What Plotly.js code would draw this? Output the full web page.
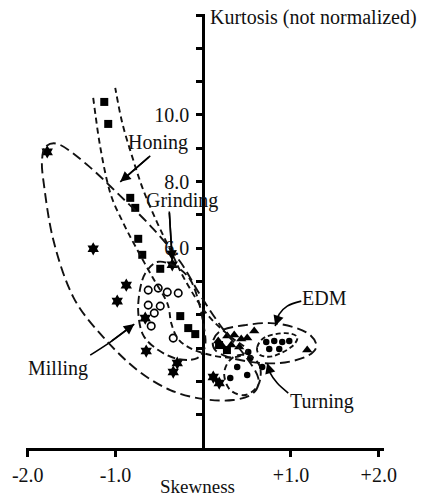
<!DOCTYPE html>
<html>
<head>
<meta charset="utf-8">
<script src="https://cdn.plot.ly/plotly-3.0.1.min.js"></script>
<style>
html,body{margin:0;padding:0;background:#fff;}
#chart{width:421px;height:496px;}
</style>
</head>
<body>
<div id="chart"></div>
<script>
// ---- data points (skewness, kurtosis) ----
const honingX = [-1.128, -1.083, -0.832, -0.775, -0.741, -0.695, -0.49, -0.262, -0.171, -0.091, 0.18, 0.27];
const honingY = [10.39, 9.73, 7.51, 7.21, 6.28, 5.80, 5.38, 3.96, 3.60, 3.42, 3.09, 2.94];

const grindingX = [-0.627, -0.513, -0.41, -0.285, -0.627, -0.49, -0.558, -0.593, -0.342];
const grindingY = [4.74, 4.80, 4.68, 4.65, 4.29, 4.26, 4.05, 3.66, 3.30];

const millingX = [-1.778, -1.254, -0.877, -0.98, -0.661, -0.65, -0.296, -0.342, 0.114, 0.182, -0.353];
const millingY = [8.89, 5.98, 4.89, 4.41, 3.90, 2.91, 2.55, 2.28, 2.13, 1.95, 5.50];

const edmX = [0.171, 0.274, 0.353, 0.433, 0.501, 0.581, 0.217, 0.319, 0.41, 1.185];
const edmY = [3.21, 3.36, 3.39, 3.27, 3.30, 3.51, 3.06, 3.09, 3.03, 2.94];

const turningX = [0.718, 0.809, 0.90, 0.98, 0.752, 0.866, 0.513, 0.536, 0.672, 0.387, 0.501, 0.308];
const turningY = [3.18, 3.21, 3.18, 3.21, 2.97, 2.97, 2.88, 2.70, 2.43, 2.43, 2.19, 2.10];

// ---- region outlines ----
const millingOutX = [-1.789, -1.63, -1.322, -0.946, -0.57, -0.262, -0.034, 0.217, 0.479, 0.627, 0.57, 0.342, 0.0, -0.376, -0.752, -1.14, -1.481, -1.709, -1.823, -1.835];
const millingOutY = [9.07, 9.10, 8.50, 7.57, 6.58, 5.59, 4.59, 3.60, 2.76, 2.10, 1.65, 1.44, 1.47, 1.74, 2.34, 3.33, 4.53, 6.25, 8.05, 8.71];

const honingOutX = [-1.254, -1.174, -1.06, -0.912, -0.764, -0.581, -0.41, -0.365, -0.285, -0.125, 0.137, 0.365, 0.501, 0.33, 0.125, -0.034, -0.228, -0.376, -0.524, -0.684, -0.809, -0.923, -1.003];
const honingOutY = [10.51, 9.04, 7.66, 6.76, 6.01, 5.14, 4.35, 3.75, 3.27, 2.97, 2.76, 2.73, 2.94, 3.30, 3.78, 4.29, 5.14, 5.95, 6.76, 7.75, 8.74, 9.76, 10.81];

const grindingOutX = [-0.513, -0.308, -0.148, -0.057, 0.0, 0.023, -0.068, -0.285, -0.513, -0.684, -0.741, -0.718, -0.65];
const grindingOutY = [5.59, 5.44, 5.05, 4.44, 3.75, 3.09, 2.70, 2.67, 2.94, 3.39, 4.08, 4.80, 5.29];

const edmOutX = [0.114, 0.217, 0.479, 0.764, 1.026, 1.219, 1.288, 1.162, 0.877, 0.558, 0.285, 0.137];
const edmOutY = [3.24, 3.54, 3.69, 3.75, 3.63, 3.39, 3.03, 2.73, 2.55, 2.58, 2.73, 2.94];

const turningOutAX = [0.615, 0.707, 0.934, 1.071, 1.003, 0.798, 0.65];
const turningOutAY = [3.03, 3.33, 3.45, 3.33, 3.03, 2.76, 2.79];

const turningOutBX = [0.399, 0.558, 0.65, 0.627, 0.479, 0.308, 0.239, 0.285];
const turningOutBY = [2.79, 2.73, 2.40, 1.89, 1.59, 1.74, 2.19, 2.58];

// ---- pointer arrows (tail ... tip) ----
const honingArrowX = [-0.604, -0.946];
const honingArrowY = [8.77, 7.99];
const grindingArrowX = [-0.387, -0.353];
const grindingArrowY = [7.10, 5.62];
const millingArrowX = [-1.288, -1.06, -0.786];
const millingArrowY = [2.79, 3.18, 3.72];
const edmArrowX = [1.117, 0.957, 0.866, 0.821];
const edmArrowY = [4.41, 4.26, 4.02, 3.66];
const turningArrowX = [0.969, 0.843, 0.764, 0.729];
const turningArrowY = [1.65, 1.95, 2.25, 2.55];

// ---- labels ----
const labelText = ['Honing', 'Grinding', 'EDM', 'Turning', 'Milling'];
const labelX = [-0.519, -0.245, 1.379, 1.356, -1.652];
const labelY = [9.16, 7.43, 4.50, 1.41, 2.40];

const xTickVals = [-2, -1, 1, 2];
const xTickText = ['-2.0', '-1.0', '+1.0', '+2.0'];
const yTickVals = [1,2,3,4,5,6,7,8,9,10,11,12,13];
const yTickText = ['','','','','','6.0','','8.0','','10.0','','',''];

const FONT = '"Liberation Serif", "Times New Roman", serif';
const FS = 20;

function f(v){ return (+v).toFixed(4); }
function closedPath(xs, ys){
  const n = xs.length;
  let d = 'M' + f(xs[0]) + ',' + f(ys[0]);
  for (let i = 0; i < n; i++){
    const i0 = (i - 1 + n) % n, i1 = i, i2 = (i + 1) % n, i3 = (i + 2) % n;
    const c1x = xs[i1] + (xs[i2] - xs[i0]) / 6, c1y = ys[i1] + (ys[i2] - ys[i0]) / 6;
    const c2x = xs[i2] - (xs[i3] - xs[i1]) / 6, c2y = ys[i2] - (ys[i3] - ys[i1]) / 6;
    d += ' C' + f(c1x) + ',' + f(c1y) + ' ' + f(c2x) + ',' + f(c2y) + ' ' + f(xs[i2]) + ',' + f(ys[i2]);
  }
  return d + ' Z';
}
function openPath(xs, ys){
  const n = xs.length;
  let d = 'M' + f(xs[0]) + ',' + f(ys[0]);
  for (let i = 0; i < n - 1; i++){
    const i0 = Math.max(i - 1, 0), i1 = i, i2 = i + 1, i3 = Math.min(i + 2, n - 1);
    const c1x = xs[i1] + (xs[i2] - xs[i0]) / 6, c1y = ys[i1] + (ys[i2] - ys[i0]) / 6;
    const c2x = xs[i2] - (xs[i3] - xs[i1]) / 6, c2y = ys[i2] - (ys[i3] - ys[i1]) / 6;
    d += ' C' + f(c1x) + ',' + f(c1y) + ' ' + f(c2x) + ',' + f(c2y) + ' ' + f(xs[i2]) + ',' + f(ys[i2]);
  }
  return d;
}
function outline(path, dash){
  return {type:'path', xref:'x', yref:'y', path:path, layer:'above',
          line:{color:'#111', width:1.9, dash:dash}};
}

const shapes = [
  outline(closedPath(millingOutX, millingOutY), '10px,5px'),
  outline(openPath(honingOutX, honingOutY), '6px,4px'),
  outline(closedPath(grindingOutX, grindingOutY), '8px,4px'),
  outline(closedPath(edmOutX, edmOutY), '10px,5px'),
  outline(closedPath(turningOutAX, turningOutAY), '5px,3px'),
  outline(closedPath(turningOutBX, turningOutBY), '6px,4px')
];

function pts(x, y, symbol, size){
  return {type:'scatter', mode:'markers', x:x, y:y, hoverinfo:'skip',
    marker:{symbol:symbol, size:size, color:'#000', line:{color:'#000', width:0}}};
}
function shaft(x, y){
  return {type:'scatter', mode:'lines', x:x, y:y, hoverinfo:'skip',
    line:{color:'#000', width:1.6, shape:'spline'}};
}

const traces = [
  pts(honingX, honingY, 'square', 8),
  {type:'scatter', mode:'markers', x:grindingX, y:grindingY, hoverinfo:'skip',
   marker:{symbol:'circle-open', size:7.5, color:'#000', line:{color:'#000', width:1.6}}},
  pts(millingX, millingY, 'hexagram', 10),
  pts(edmX, edmY, 'triangle-up', 9),
  pts(turningX, turningY, 'circle', 6.5),
  shaft(honingArrowX, honingArrowY),
  shaft(grindingArrowX, grindingArrowY),
  shaft(millingArrowX, millingArrowY),
  shaft(edmArrowX, edmArrowY),
  shaft(turningArrowX, turningArrowY)
];

function head(xs, ys){
  const n = xs.length;
  return {x:xs[n-1], y:ys[n-1], ax:xs[n-2], ay:ys[n-2], xref:'x', yref:'y', axref:'x', ayref:'y',
          text:'', showarrow:true, arrowhead:2, arrowsize:1.3, arrowwidth:1.6, arrowcolor:'#000'};
}

const annotations = [
  head(honingArrowX, honingArrowY),
  head(grindingArrowX, grindingArrowY),
  head(millingArrowX, millingArrowY),
  head(edmArrowX, edmArrowY),
  head(turningArrowX, turningArrowY)
];
for (let i = 0; i < labelText.length; i++){
  annotations.push({x:labelX[i], y:labelY[i], xref:'x', yref:'y', text:labelText[i],
    showarrow:false, xanchor:'center', yanchor:'middle', font:{family:FONT, size:FS, color:'#111'}});
}
annotations.push({x:0.508, y:0.993, xref:'paper', yref:'paper', text:'Kurtosis (not normalized)',
  showarrow:false, xanchor:'left', yanchor:'middle', font:{family:FONT, size:FS, color:'#111'}});
annotations.push({x:0.480, y:-0.089, xref:'paper', yref:'paper', text:'Skewness',
  showarrow:false, xanchor:'center', yanchor:'middle', font:{family:FONT, size:FS - 1, color:'#111'}});

const layout = {
  width:421, height:496,
  margin:{l:26, r:37, t:14, b:48, pad:0},
  paper_bgcolor:'#fff', plot_bgcolor:'#fff',
  showlegend:false,
  font:{family:FONT, size:FS, color:'#111'},
  xaxis:{range:[-2.02, 2.06], showgrid:false, zeroline:false, showline:true, linewidth:3, linecolor:'#000',
         ticks:'outside', ticklen:6, tickwidth:3, tickcolor:'#000',
         tickvals:xTickVals, ticktext:xTickText, tickfont:{family:FONT, size:FS, color:'#111'},
         ticklabelstandoff:1, fixedrange:true},
  yaxis:{range:[0, 13.03], showgrid:false, zeroline:false, showline:true, linewidth:3, linecolor:'#000',
         anchor:'free', position:2.02/4.08, side:'left',
         ticks:'outside', ticklen:6, tickwidth:3, tickcolor:'#000',
         tickvals:yTickVals, ticktext:yTickText, tickfont:{family:FONT, size:FS, color:'#111'},
         ticklabelstandoff:3, fixedrange:true},
  shapes:shapes,
  annotations:annotations
};

Plotly.newPlot('chart', traces, layout, {displayModeBar:false, staticPlot:true});
</script>
</body>
</html>
